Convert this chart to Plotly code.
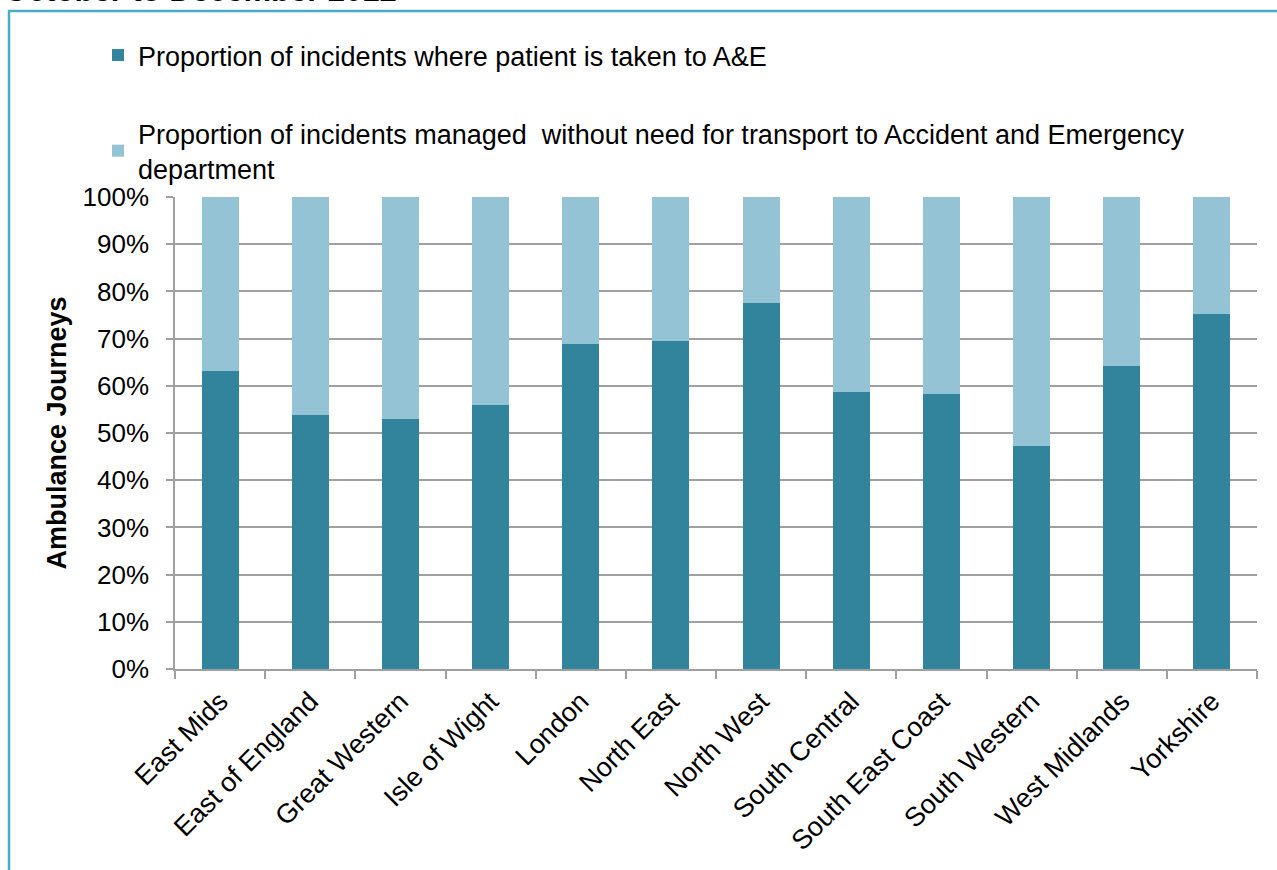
import plotly.graph_objects as go

regions = ["East Mids", "East of England", "Great Western", "Isle of Wight", "London",
           "North East", "North West", "South Central", "South East Coast",
           "South Western", "West Midlands", "Yorkshire"]
taken_to_ae = [63.1, 53.8, 53.0, 55.9, 68.9, 69.5, 77.5, 58.7, 58.3, 47.2, 64.2, 75.2]
managed_without = [round(100 - v, 1) for v in taken_to_ae]

name_ae = "Proportion of incidents where patient is taken to A&E"
name_other = "Proportion of incidents managed  without need for transport to Accident and Emergency<br>department"

dark = "#31849B"
light = "#93C3D5"
grid = "#A0A0A0"
font = "Liberation Sans, Arial, sans-serif"
fs = 26

fig = go.Figure()
fig.add_trace(go.Bar(x=regions, y=taken_to_ae, name=name_ae, marker_color=dark,
                     marker_line_width=0, legendgroup="a"))
fig.add_trace(go.Bar(x=regions, y=managed_without, name=name_other, marker_color=light,
                     marker_line_width=0, legendgroup="b"))

L, R, T, B = 175, 20, 197, 201
W, H = 1277, 870
pw, ph = W - L - R, H - T - B

def px_x(p):
    return (p - L) / pw

def px_y(p):
    return 1 + (T - p) / ph

fig.update_layout(
    width=W, height=H,
    barmode="stack", bargap=0.59,
    paper_bgcolor="white", plot_bgcolor="white",
    margin=dict(l=L, r=R, t=T, b=B, autoexpand=False),
    font=dict(family=font, size=fs, color="#000000"),
    legend=dict(
        orientation="v", traceorder="grouped", tracegroupgap=40,
        x=px_x(98), y=px_y(31), xanchor="left", yanchor="top",
        font=dict(size=27, color="#000000"), bgcolor="rgba(0,0,0,0)",
        itemwidth=30,
    ),
    xaxis=dict(
        type="category", tickangle=-45, tickson="boundaries",
        ticks="outside", ticklen=8, tickcolor=grid, tickwidth=1.5,
        showline=True, linecolor=grid, linewidth=1.5,
        showgrid=False, tickfont=dict(size=27, color="#000000"),
        ticklabelstandoff=4,
    ),
    yaxis=dict(
        range=[0, 100], dtick=10, ticksuffix="%",
        ticks="outside", ticklen=7, tickcolor=grid, tickwidth=1.5,
        showline=True, linecolor=grid, linewidth=1.5,
        showgrid=True, gridcolor=grid, gridwidth=1.5,
        tickfont=dict(size=fs, color="#000000"),
        ticklabelstandoff=12,
        title=dict(text="<b>Ambulance Journeys</b>", font=dict(size=27, color="#000000"),
                   standoff=8),
    ),
    showlegend=True,
)

fig.add_shape(type="rect", xref="paper", yref="paper",
              x0=px_x(9), x1=px_x(1300), y0=px_y(900), y1=px_y(11),
              line=dict(color="#4BACC6", width=2.5), fillcolor="rgba(0,0,0,0)", layer="below")

fig.add_annotation(text="<b>October to December 2012</b>", xref="paper", yref="paper",
                   x=px_x(2), y=px_y(10), xanchor="left", yanchor="bottom",
                   showarrow=False, font=dict(size=31, color="#000000", family=font))

fig.write_html("out.html", config={"displayModeBar": False},
               post_script="document.body.style.margin='0px';document.body.style.overflow='hidden';")
